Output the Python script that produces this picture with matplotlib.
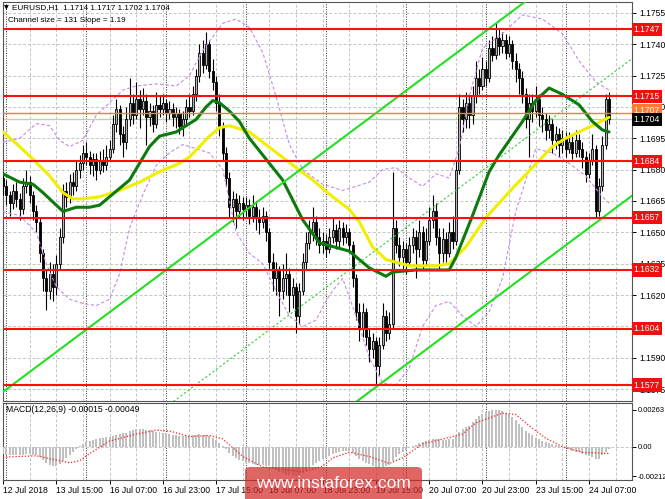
import numpy as np
import matplotlib.pyplot as plt
from matplotlib.patches import FancyBboxPatch
import matplotlib.transforms as mtransforms

plt.rcParams['font.family'] = ['Liberation Sans', 'DejaVu Sans']

# EURUSD H1, one value per bar (bar 0 = 12 Jul 2018 23:00)
first_open = 1.1676
closes = [1.1672, 1.1668, 1.1664, 1.1670, 1.1666, 1.1661, 1.1672, 1.1674, 1.1668, 1.1660,
          1.1655, 1.1640, 1.1628, 1.1622, 1.1630, 1.1624, 1.1635, 1.1648, 1.1670, 1.1667,
          1.1674, 1.1672, 1.1680, 1.1683, 1.1688, 1.1686, 1.1682, 1.1685, 1.1680, 1.1684,
          1.1682, 1.1686, 1.1690, 1.1702, 1.1709, 1.1697, 1.1693, 1.1704, 1.1712, 1.1706,
          1.1714, 1.1709, 1.1713, 1.1705, 1.1708, 1.1702, 1.1711, 1.1709, 1.1712, 1.1707,
          1.1709, 1.1705, 1.1707, 1.1701, 1.1704, 1.1710, 1.1708, 1.1716, 1.1725, 1.1736,
          1.1730, 1.1740, 1.1727, 1.1722, 1.1712, 1.1700, 1.1688, 1.1676, 1.1662, 1.1666,
          1.1660, 1.1664, 1.1661, 1.1663, 1.1658, 1.1662, 1.1657, 1.1655, 1.1658, 1.1650,
          1.1636, 1.1628, 1.1632, 1.1622, 1.1628, 1.1630, 1.1620, 1.1624, 1.1610, 1.1622,
          1.1636, 1.1645, 1.1650, 1.1655, 1.1648, 1.1644, 1.1646, 1.1642, 1.1648, 1.1651,
          1.1646, 1.1652, 1.1648, 1.1650, 1.1644, 1.1628, 1.1612, 1.1604, 1.1612, 1.1600,
          1.1594, 1.1598, 1.1586, 1.1596, 1.1610, 1.1602, 1.1606, 1.1652, 1.1644, 1.1638,
          1.1642, 1.1636, 1.1644, 1.1648, 1.1642, 1.1650, 1.1637, 1.1646, 1.1656, 1.1660,
          1.1648, 1.1640, 1.1647, 1.1640, 1.1650, 1.1646, 1.1680, 1.1710, 1.1704, 1.1712,
          1.1706, 1.1715, 1.1724, 1.1720, 1.1728, 1.1724, 1.1738, 1.1735, 1.1743, 1.1739,
          1.1742, 1.1736, 1.1740, 1.1732, 1.1728, 1.1724, 1.1716, 1.1704, 1.1712, 1.1708,
          1.1714, 1.1706, 1.1704, 1.1699, 1.1702, 1.1694, 1.1697, 1.1692, 1.1695, 1.1690,
          1.1693, 1.1688, 1.1694, 1.1690, 1.1686, 1.1678, 1.1684, 1.1690, 1.1660, 1.1672,
          1.1692, 1.1714, 1.1704]
highs = [1.1679, 1.1675, 1.1670, 1.1673, 1.1674, 1.1669, 1.1676, 1.1680, 1.1677, 1.1670,
         1.1663, 1.1657, 1.1642, 1.1632, 1.1636, 1.1635, 1.1639, 1.1652, 1.1673, 1.1674,
         1.1678, 1.1679, 1.1684, 1.1687, 1.1692, 1.1693, 1.1689, 1.1688, 1.1688, 1.1689,
         1.1690, 1.1692, 1.1694, 1.1706, 1.1714, 1.1711, 1.1701, 1.1710, 1.1724, 1.1716,
         1.1722, 1.1718, 1.1719, 1.1716, 1.1712, 1.1711, 1.1717, 1.1715, 1.1716, 1.1714,
         1.1713, 1.1712, 1.1710, 1.1709, 1.1708, 1.1714, 1.1716, 1.1720, 1.1728, 1.1740,
         1.1742, 1.1746, 1.1742, 1.1733, 1.1725, 1.1716, 1.1703, 1.1691, 1.1679, 1.1670,
         1.1669, 1.1668, 1.1667, 1.1667, 1.1666, 1.1668, 1.1665, 1.1661, 1.1662, 1.1660,
         1.1652, 1.1640, 1.1636, 1.1634, 1.1635, 1.1640, 1.1633, 1.1628, 1.1626, 1.1626,
         1.1640, 1.1650, 1.1656, 1.1662, 1.1658, 1.1652, 1.1650, 1.1649, 1.1652, 1.1657,
         1.1654, 1.1656, 1.1655, 1.1654, 1.1652, 1.1646, 1.1630, 1.1616, 1.1616, 1.1614,
         1.1604, 1.1602, 1.1600, 1.1600, 1.1616, 1.1613, 1.1612, 1.1679, 1.1656, 1.1648,
         1.1646, 1.1645, 1.1648, 1.1652, 1.1651, 1.1656, 1.1653, 1.1652, 1.1662, 1.1668,
         1.1664, 1.1652, 1.1652, 1.1650, 1.1655, 1.1658, 1.1684, 1.1716, 1.1714, 1.1717,
         1.1715, 1.1720, 1.1732, 1.1728, 1.1734, 1.1732, 1.1742, 1.1744, 1.1750, 1.1747,
         1.1746, 1.1745, 1.1744, 1.1742, 1.1736, 1.1731, 1.1727, 1.1719, 1.1716, 1.1716,
         1.1720, 1.1716, 1.1710, 1.1707, 1.1706, 1.1704, 1.1701, 1.1700, 1.1699, 1.1698,
         1.1698, 1.1696, 1.1699, 1.1697, 1.1693, 1.1689, 1.1688, 1.1697, 1.1692, 1.1676,
         1.1696, 1.1716, 1.1717]
lows = [1.1668, 1.1663, 1.1658, 1.1661, 1.1662, 1.1656, 1.1659, 1.1669, 1.1664, 1.1656,
        1.1650, 1.1636, 1.1622, 1.1613, 1.1618, 1.1617, 1.1620, 1.1632, 1.1645, 1.1662,
        1.1664, 1.1668, 1.1670, 1.1676, 1.1680, 1.1682, 1.1678, 1.1677, 1.1675, 1.1678,
        1.1679, 1.1680, 1.1684, 1.1688, 1.1698, 1.1692, 1.1686, 1.1690, 1.1701, 1.1702,
        1.1704, 1.1700, 1.1706, 1.1692, 1.1701, 1.1698, 1.1700, 1.1705, 1.1706, 1.1703,
        1.1704, 1.1701, 1.1700, 1.1697, 1.1696, 1.1702, 1.1705, 1.1706, 1.1713, 1.1722,
        1.1726, 1.1728, 1.1724, 1.1718, 1.1708, 1.1696, 1.1684, 1.1672, 1.1657, 1.1655,
        1.1652, 1.1657, 1.1656, 1.1658, 1.1654, 1.1655, 1.1651, 1.1649, 1.1652, 1.1646,
        1.1632, 1.1622, 1.1620, 1.1610, 1.1618, 1.1620, 1.1612, 1.1614, 1.1602, 1.1606,
        1.1620, 1.1632, 1.1642, 1.1646, 1.1644, 1.1640, 1.1640, 1.1638, 1.1640, 1.1645,
        1.1642, 1.1643, 1.1644, 1.1645, 1.1640, 1.1624, 1.1608, 1.1598, 1.1600, 1.1596,
        1.1588, 1.1590, 1.1577, 1.1582, 1.1594, 1.1598, 1.1599, 1.1604, 1.1640, 1.1634,
        1.1632, 1.1630, 1.1634, 1.1640, 1.1628, 1.1638, 1.1632, 1.1634, 1.1644, 1.1652,
        1.1644, 1.1632, 1.1636, 1.1636, 1.1638, 1.1642, 1.1644, 1.1678, 1.1698, 1.1700,
        1.1700, 1.1702, 1.1712, 1.1716, 1.1718, 1.1720, 1.1722, 1.1732, 1.1733, 1.1735,
        1.1736, 1.1733, 1.1734, 1.1728, 1.1722, 1.1716, 1.1712, 1.1700, 1.1686, 1.1703,
        1.1705, 1.1701, 1.1698, 1.1694, 1.1695, 1.1688, 1.1690, 1.1686, 1.1688, 1.1686,
        1.1688, 1.1685, 1.1686, 1.1686, 1.1681, 1.1674, 1.1676, 1.1682, 1.1657, 1.1658,
        1.1670, 1.1690, 1.1702]

# moving averages and bands, read at sample bars
ma_fast_bar = [0, 5, 9, 12, 16, 18, 22, 26, 29, 32, 35, 38, 41, 44, 47, 52, 55, 58, 61, 63, 65, 68,
               71, 74, 79, 84, 90, 95, 104, 110, 115, 117, 124, 134, 136, 141, 146, 149, 156, 160,
               164, 168, 173, 177, 180, 182]
ma_fast = [1.1678, 1.1674, 1.1673, 1.1669, 1.1663, 1.1660, 1.1662, 1.1662, 1.1663, 1.1667, 1.1671,
           1.1675, 1.1683, 1.1691, 1.1696, 1.1698, 1.1701, 1.1704, 1.1710, 1.1713, 1.1712, 1.1708,
           1.1703, 1.1695, 1.1685, 1.1675, 1.1656, 1.1645, 1.1641, 1.1633, 1.1629, 1.1631, 1.1632,
           1.1632, 1.1638, 1.1658, 1.1679, 1.1687, 1.1703, 1.1713, 1.1719, 1.1716, 1.1711, 1.1703,
           1.1699, 1.1698]
ma_slow_bar = [0, 5, 9, 14, 18, 21, 24, 29, 35, 41, 47, 53, 56, 59, 62, 65, 68, 74, 83, 93, 99, 104,
               107, 111, 115, 122, 130, 134, 139, 145, 153, 159, 165, 169, 173, 177, 182]
ma_slow = [1.1698, 1.1691, 1.1685, 1.1677, 1.1669, 1.1666, 1.1666, 1.1667, 1.1670, 1.1674, 1.1679,
           1.1683, 1.1686, 1.1691, 1.1696, 1.1700, 1.1701, 1.1698, 1.1687, 1.1675, 1.1667, 1.1661,
           1.1655, 1.1643, 1.1637, 1.1634, 1.1634, 1.1635, 1.1643, 1.1657, 1.1671, 1.1681, 1.1691,
           1.1695, 1.1698, 1.1701, 1.1705]
bb_up_bar = [0, 5, 10, 14, 17, 20, 24, 28, 32, 36, 40, 46, 52, 56, 60, 66, 70, 74, 78, 82, 86, 90,
             96, 102, 106, 110, 114, 118, 122, 126, 130, 134, 137, 140, 144, 150, 156, 162, 168,
             173, 178, 182]
bb_up = [1.1693, 1.1695, 1.1702, 1.1701, 1.1694, 1.1691, 1.1694, 1.1706, 1.1712, 1.1718, 1.1720,
         1.1721, 1.1720, 1.1725, 1.1737, 1.1750, 1.1752, 1.1748, 1.1736, 1.1715, 1.1692, 1.1680,
         1.1673, 1.1670, 1.1672, 1.1674, 1.1680, 1.1681, 1.1676, 1.1672, 1.1678, 1.1676, 1.1690,
         1.1715, 1.1738, 1.1745, 1.1754, 1.1752, 1.1745, 1.1732, 1.1722, 1.1718]
bb_dn_bar = [0, 5, 10, 13, 16, 20, 24, 28, 32, 35, 38, 42, 46, 50, 54, 58, 62, 66, 70, 74, 78, 82,
             86, 90, 94, 98, 102, 106, 110, 114, 118, 122, 126, 130, 134, 138, 142, 146, 150, 154,
             160, 165, 170, 175, 180, 182]
bb_dn = [1.1660, 1.1658, 1.1650, 1.1635, 1.1624, 1.1618, 1.1616, 1.1615, 1.1618, 1.1630, 1.1652,
         1.1668, 1.1682, 1.1688, 1.1692, 1.1690, 1.1688, 1.1680, 1.1650, 1.1640, 1.1635, 1.1622,
         1.1610, 1.1605, 1.1608, 1.1620, 1.1628, 1.1610, 1.1590, 1.1578, 1.1577, 1.1585, 1.1605,
         1.1615, 1.1617, 1.1610, 1.1605, 1.1612, 1.1628, 1.1660, 1.1690, 1.1688, 1.1683, 1.1677,
         1.1667, 1.1664]

# regression channel
chan_bar, chan_low, chan_size, chan_slope = 112, 1.1576, 0.0131, 0.000119

levels = [1.1747, 1.1715, 1.1684, 1.1657, 1.1632, 1.1604, 1.1577]
ask_level, bid_level = 1.1707, 1.1704

# MACD(12,26,9) in 1e-5 units
macd = [-55, -58, -60, -60, -58, -60, -58, -55, -55, -58, -62, -75, -95, -115, -130, -140, -140,
        -125, -100, -80, -60, -40, -20, 5, 20, 30, 40, 48, 55, 60, 65, 70, 72, 78, 85, 90, 95, 100,
        110, 118, 125, 128, 125, 120, 118, 112, 108, 105, 100, 95, 90, 85, 80, 78, 75, 76, 78, 80,
        85, 88, 85, 82, 75, 60, 45, 25, 5, -20, -45, -65, -80, -95, -105, -115, -120, -125, -128,
        -130, -132, -135, -140, -150, -165, -180, -190, -200, -205, -210, -212, -205, -190, -170,
        -150, -130, -115, -100, -90, -80, -65, -50, -42, -36, -32, -30, -33, -45, -65, -85, -100,
        -115, -125, -135, -148, -150, -145, -140, -130, -100, -75, -55, -40, -25, -10, 5, 15, 25,
        30, 38, 48, 55, 55, 52, 50, 50, 55, 55, 75, 105, 125, 140, 150, 175, 200, 220, 235, 248,
        258, 263, 263, 260, 252, 242, 230, 212, 190, 165, 140, 115, 95, 80, 65, 52, 42, 34, 26, 18,
        10, 4, -2, -8, -20, -28, -35, -40, -50, -60, -70, -75, -90, -85, -60, -35, -15]
sig_bar = [0, 10, 17, 20, 23, 26, 32, 40, 46, 50, 56, 62, 66, 72, 78, 90, 96, 99, 104, 110, 116,
           120, 126, 133, 138, 142, 150, 154, 158, 163, 168, 174, 182]
sig = [-75, -65, -100, -115, -100, -50, 40, 90, 118, 112, 72, 80, 55, -70, -145, -180, -140, -80,
       -40, -70, -120, -80, 20, 60, 90, 170, 240, 230, 150, 60, 0, -40, -49]

tick_bars = [0, 16, 32, 48, 64, 80, 96, 112, 128, 144, 160, 176]
tick_text = ['12 Jul 2018', '13 Jul 15:00', '16 Jul 07:00', '16 Jul 23:00', '17 Jul 15:00',
             '18 Jul 07:00', '18 Jul 23:00', '19 Jul 15:00', '20 Jul 07:00', '20 Jul 23:00',
             '23 Jul 15:00', '24 Jul 07:00']
day_starts = [1, 25, 49, 73, 97, 121, 145, 169]

W, H = 665, 499
fig = plt.figure(figsize=(W / 100, H / 100), dpi=100, facecolor='white')


def px_axes(x0, y0, x1, y1):
    return fig.add_axes([x0 / W, 1 - y1 / H, (x1 - x0) / W, (y1 - y0) / H])


ax = px_axes(3, 2, 632, 401)
mx = px_axes(3, 403, 632, 480)
xmax = 188.9
fs = 6.2
grid_kw = dict(color='#c4c4c4', lw=0.7, ls=(0, (3, 2)), zorder=1)

for a in (ax, mx):
    a.set_xlim(0, xmax)
    for b in range(8, 189, 8):
        a.axvline(b, **grid_kw)
    for b in day_starts:
        a.axvline(b, color='#333333', lw=0.7, ls=(0, (1, 1.5)), zorder=1)
    for s in a.spines.values():
        s.set_linewidth(0.8)
        s.set_color('#555555')

# --- price panel ---
ax.set_ylim(1.156935, 1.176015)
yt = [1.1575 + 0.0015 * k for k in range(13)]
for t in yt:
    ax.axhline(t, **grid_kw)
ax.yaxis.tick_right()
ax.set_yticks(yt)
# 1.1605 sits fully under the 1.1604 level box
ax.set_yticklabels(['' if abs(t - 1.1605) < 1e-6 else f'{t:.4f}' for t in yt])
ax.tick_params(axis='y', length=3, width=0.7, labelsize=fs, pad=2)
ax.set_xticks([])

c = np.array(closes)
o = np.concatenate([[first_open], c[:-1]])
h = np.maximum(np.array(highs), np.maximum(o, c))
l = np.minimum(np.array(lows), np.minimum(o, c))
x = np.arange(len(c))
ax.vlines(x, l, h, color='black', lw=0.8, zorder=3)
ax.bar(x, np.maximum(np.abs(c - o), 0.00002), bottom=np.minimum(o, c), width=0.62,
       color=np.where(c >= o, '#b5b5b5', 'black'), edgecolor='black', linewidth=0.6, zorder=3)

ax.plot(bb_up_bar, bb_up, color='#c58be8', lw=0.8, ls=(0, (3, 2)), zorder=4)
ax.plot(bb_dn_bar, bb_dn, color='#c58be8', lw=0.8, ls=(0, (3, 2)), zorder=4)
ax.plot(ma_slow_bar, ma_slow, color='#f2ee00', lw=2.2, zorder=5, solid_capstyle='round')
ax.plot(ma_fast_bar, ma_fast, color='#0d7a0d', lw=2.2, zorder=5, solid_capstyle='round')

cx = np.array([-10, 200])
lower = chan_low + chan_slope * (cx - chan_bar)
ax.plot(cx, lower, color='#22e022', lw=1.5, zorder=6)
ax.plot(cx, lower + chan_size, color='#22e022', lw=1.5, zorder=6)
ax.plot(cx, lower + chan_size / 2, color='#33cc33', lw=0.8, ls=(0, (2, 2)), zorder=6)

ax.axhline(bid_level, color='#c8c8c8', lw=1.0, zorder=2)
ax.axhline(ask_level, color='#ff7a30', lw=1.0, zorder=6)
for lv in levels:
    ax.axhline(lv, color='#ff1010', lw=1.5, zorder=6)

ytr = mtransforms.blended_transform_factory(ax.transAxes, ax.transData)
box = dict(boxstyle='square,pad=0.25', lw=0)
for lv in levels:
    ax.text(1.003, lv, f'{lv:.4f}', transform=ytr, ha='left', va='center', fontsize=fs,
            color='white', clip_on=False, zorder=10, bbox=dict(box, fc='#f01010'))
ax.text(1.003, ask_level + 0.00012, f'{ask_level:.4f}', transform=ytr, ha='left', va='center',
        fontsize=fs, color='white', clip_on=False, zorder=10, bbox=dict(box, fc='#ff7a30'))
ax.text(1.003, bid_level - 0.00002, f'{bid_level:.4f}', transform=ytr, ha='left', va='center',
        fontsize=fs, color='white', clip_on=False, zorder=11, bbox=dict(box, fc='black'))

# --- MACD panel ---
mlo, mhi = -0.00212, 0.00263
mx.set_ylim(-0.00238, 0.00312)
mx.axhline(0, **grid_kw)
mx.bar(x, np.array(macd) * 1e-5, width=0.6, color='#c0c0c0', zorder=3)
mx.plot(sig_bar, np.array(sig) * 1e-5, color='#ff2020', lw=0.9, ls=(0, (1, 1.5)), zorder=4)
mx.yaxis.tick_right()
mx.set_yticks([mlo, 0, mhi])
mx.set_yticklabels(['-0.00212', '0.00', '0.00263'])
mx.tick_params(axis='y', length=3, width=0.7, labelsize=5.4, pad=1)
mx.set_xticks(tick_bars)
mx.set_xticklabels(tick_text, ha='left')
mx.tick_params(axis='x', length=3, width=0.7, labelsize=fs, pad=1.5)
mx.text(0.004, 0.97, 'MACD(12,26,9) -0.00015 -0.00049', transform=mx.transAxes,
        ha='left', va='top', fontsize=fs, zorder=10)

# header
fig.text(4 / W, 1 - 8 / H, '\u25bc', fontsize=4.5, va='center', ha='left', family=['DejaVu Sans'])
fig.text(12 / W, 1 - 8 / H, 'EURUSD,H1  1.1714 1.1717 1.1702 1.1704', fontsize=5.9,
         va='center', ha='left')
fig.text(8 / W, 1 - 20 / H, 'Channel size = 131 Slope = 1.19', fontsize=5.9, va='center', ha='left')

# watermark
wm = FancyBboxPatch((245 / W, 1 - 510 / H), 177 / W, 43 / H,
                    boxstyle='round,pad=0,rounding_size=0.008', transform=fig.transFigure,
                    fc='#d42a2a', ec='none', alpha=0.72, zorder=20)
fig.patches.append(wm)
fig.text(333 / W, 1 - 484 / H, 'www.instaforex.com', fontsize=12.5, color='white',
         ha='center', va='center', zorder=21)

fig.savefig('out.png', dpi=100, facecolor='white')
